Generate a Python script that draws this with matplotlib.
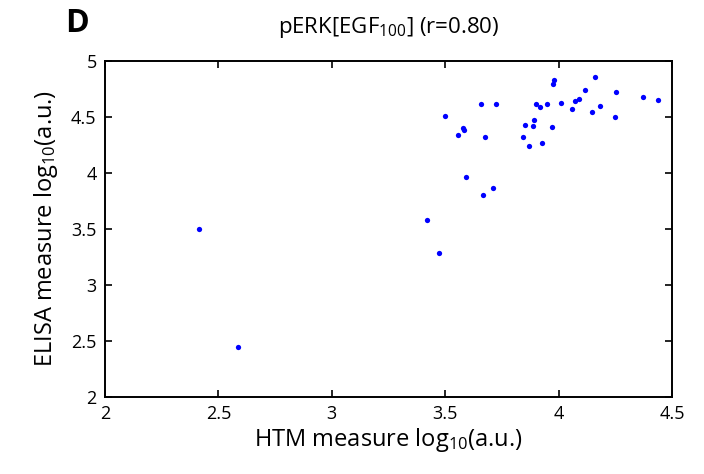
import numpy as np
import matplotlib
matplotlib.use("Agg")
import matplotlib.pyplot as plt

plt.rcParams['font.family'] = ['Open Sans', 'DejaVu Sans']
plt.rcParams['mathtext.default'] = 'regular'

htm = [2.416, 2.588, 3.418, 3.470, 3.499, 3.556, 3.576, 3.580, 3.593, 3.655,
       3.664, 3.674, 3.709, 3.721, 3.843, 3.853, 3.868, 3.884, 3.890, 3.899,
       3.919, 3.925, 3.947, 3.971, 3.975, 3.977, 4.008, 4.057, 4.071, 4.087,
       4.116, 4.144, 4.159, 4.183, 4.246, 4.252, 4.372, 4.437]
elisa = [3.495, 2.446, 3.575, 3.280, 4.509, 4.339, 4.396, 4.381, 3.959, 4.611,
         3.798, 4.316, 3.863, 4.611, 4.316, 4.426, 4.238, 4.414, 4.471, 4.611,
         4.584, 4.265, 4.613, 4.411, 4.792, 4.825, 4.625, 4.571, 4.638, 4.661,
         4.736, 4.545, 4.852, 4.596, 4.495, 4.721, 4.673, 4.652]

xticks = [2, 2.5, 3, 3.5, 4, 4.5]
xticklabels = ['2', '2.5', '3', '3.5', '4', '4.5']
yticks = [2, 2.5, 3, 3.5, 4, 4.5, 5]
yticklabels = ['2', '2.5', '3', '3.5', '4', '4.5', '5']

fig = plt.figure(figsize=(7.04, 4.74), dpi=100)
ax = fig.add_axes([0.149, 0.163, 0.806, 0.709])

ax.plot(htm, elisa, 'o', color=(0, 0, 1), markersize=3.8, markeredgewidth=0)

ax.set_xlim(2, 4.5)
ax.set_ylim(2, 5)
ax.set_xticks(xticks)
ax.set_xticklabels(xticklabels)
ax.set_yticks(yticks)
ax.set_yticklabels(yticklabels)
ax.tick_params(direction='in', top=True, right=True, length=5, width=1.2,
               labelsize=13, pad=6)
for s in ax.spines.values():
    s.set_linewidth(1.4)

ax.set_xlabel('HTM measure log$_{10}$(a.u.)', fontsize=17, labelpad=2)
ax.set_ylabel('ELISA measure log$_{10}$(a.u.)', fontsize=17, labelpad=8)
ax.set_title('pERK[EGF$_{100}$] (r=0.80)', fontsize=16, pad=20)

fig.text(0.092, 0.950, 'D', fontsize=23, fontweight='bold', ha='left', va='center')

fig.savefig('out.png', dpi=100)
